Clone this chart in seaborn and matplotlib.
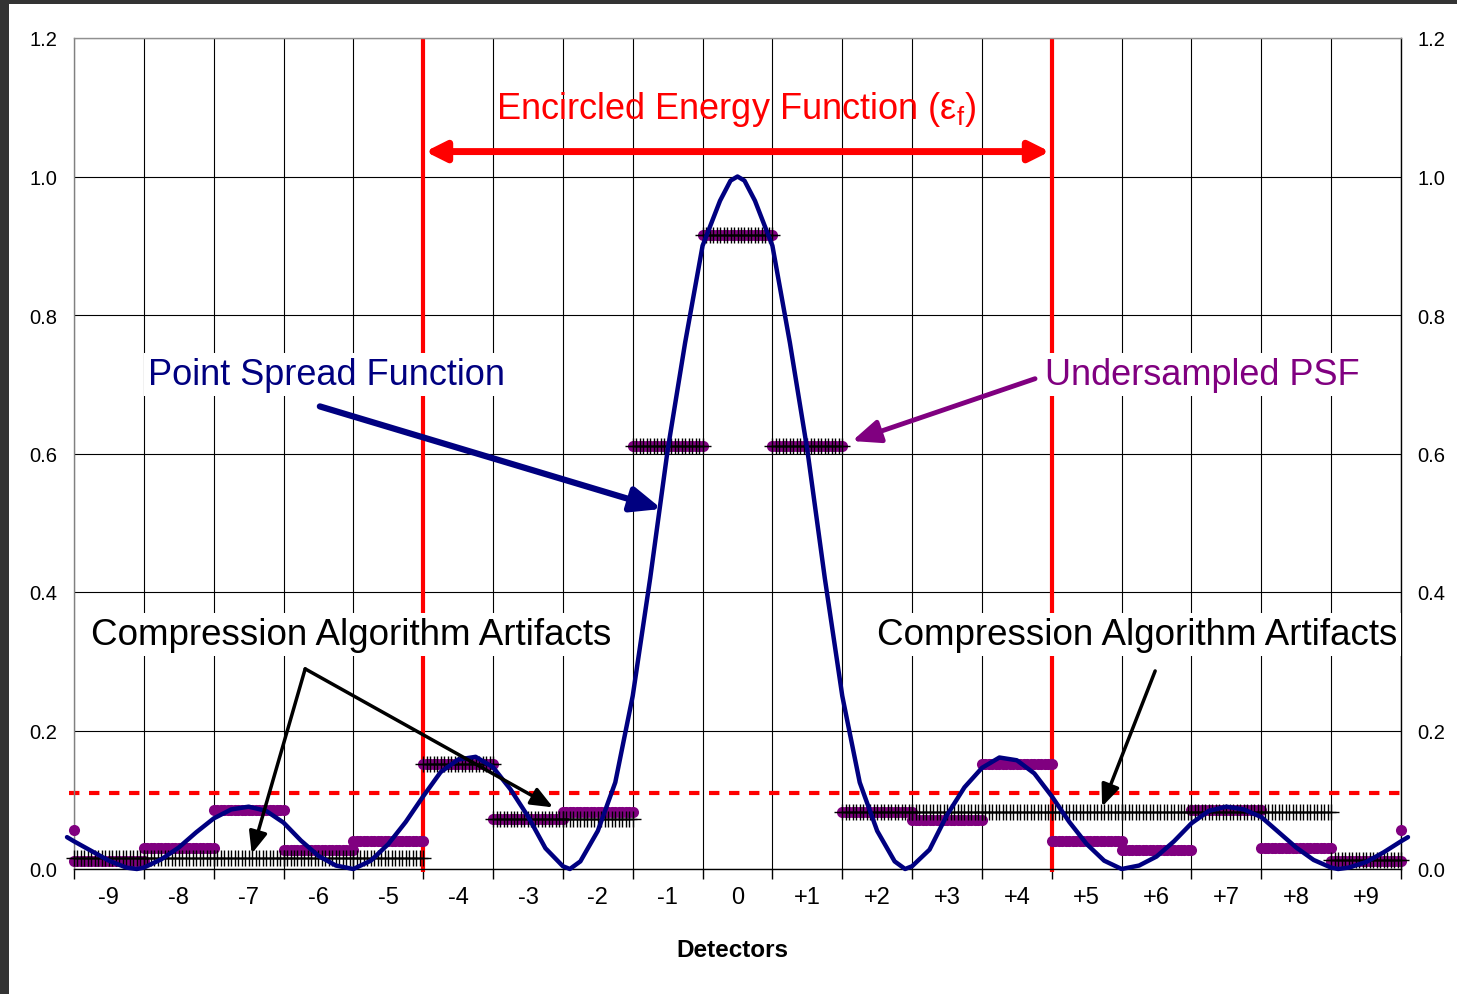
import numpy as np
import pandas as pd
import matplotlib
matplotlib.use("Agg")
import matplotlib.pyplot as plt
import seaborn as sns
from matplotlib.patches import Rectangle

# ---------------- data ----------------
DETECTORS = [-9, -8, -7, -6, -5, -4, -3, -2, -1, 0, 1, 2, 3, 4, 5, 6, 7, 8, 9]
DETECTOR_LABELS = ["-9", "-8", "-7", "-6", "-5", "-4", "-3", "-2", "-1", "0",
                   "+1", "+2", "+3", "+4", "+5", "+6", "+7", "+8", "+9"]
UNDERSAMPLED_PSF = [0.012, 0.031, 0.085, 0.027, 0.041, 0.152, 0.072, 0.083, 0.611, 0.916,
                    0.611, 0.083, 0.071, 0.151, 0.041, 0.027, 0.085, 0.031, 0.012]
COMPRESSED_PSF = [0.016, 0.016, 0.016, 0.016, 0.016, 0.152, 0.072, 0.072, 0.611, 0.916,
                  0.611, 0.083, 0.083, 0.083, 0.083, 0.083, 0.083, 0.083, 0.013]
EDGE_X = [-9.5, 9.5]
EDGE_Y = [0.057, 0.057]

PSF_X = [-9.6, -9.5, -9.25, -9.0, -8.75, -8.6, -8.5, -8.25, -8.0, -7.75, -7.5, -7.25, -7.0,
         -6.75, -6.5, -6.25, -6.0, -5.75, -5.5, -5.25, -5.0, -4.75, -4.5, -4.25, -4.0,
         -3.75, -3.5, -3.25, -3.0, -2.75, -2.5, -2.4, -2.25, -2.0, -1.75, -1.5, -1.25,
         -1.0, -0.75, -0.5, -0.25, -0.1, 0.0, 0.1, 0.25, 0.5, 0.75, 1.0, 1.25, 1.5, 1.75,
         2.0, 2.25, 2.4, 2.5, 2.75, 3.0, 3.25, 3.5, 3.75, 4.0, 4.25, 4.5, 4.75, 5.0, 5.25,
         5.5, 5.75, 6.0, 6.25, 6.5, 6.75, 7.0, 7.25, 7.5, 7.75, 8.0, 8.25, 8.5, 8.6, 8.75,
         9.0, 9.25, 9.5, 9.6]
PSF_Y = [0.046, 0.040, 0.026, 0.012, 0.002, 0.000, 0.002, 0.014, 0.031, 0.053, 0.073, 0.086, 0.090,
         0.084, 0.067, 0.041, 0.019, 0.005, 0.000, 0.012, 0.036, 0.068, 0.105, 0.140, 0.158,
         0.162, 0.147, 0.115, 0.076, 0.030, 0.004, 0.000, 0.011, 0.055, 0.125, 0.250, 0.420,
         0.605, 0.760, 0.900, 0.965, 0.994, 1.000, 0.994, 0.965, 0.900, 0.760, 0.605, 0.420, 0.250, 0.125,
         0.055, 0.011, 0.000, 0.004, 0.028, 0.078, 0.118, 0.146, 0.161, 0.157, 0.138, 0.105, 0.068, 0.036, 0.012,
         0.000, 0.005, 0.018, 0.040, 0.066, 0.084, 0.090, 0.086, 0.075, 0.053, 0.031, 0.013, 0.002, 0.000, 0.002,
         0.010, 0.024, 0.040, 0.046]

THRESHOLD = 0.11
EE_LIMITS = [-4.5, 4.5]
EE_ARROW_Y = 1.036
Y_TICKS = [0.0, 0.2, 0.4, 0.6, 0.8, 1.0, 1.2]
SAMPLE_STEP = 0.05

NAVY = "#000080"
PURPLE = "#800080"
RED = "#FF0000"

# sampled (per-detector constant) series
rows = []
for d, u, c in zip(DETECTORS, UNDERSAMPLED_PSF, COMPRESSED_PSF):
    for k in range(int(round(1 / SAMPLE_STEP)) + 1):
        rows.append({"detector": d, "x": d - 0.5 + k * SAMPLE_STEP,
                     "undersampled": u, "compressed": c})
samples = pd.DataFrame(rows)
psf = pd.DataFrame({"x": PSF_X, "psf": PSF_Y})

# ---------------- style ----------------
sns.set_theme(style="white")
plt.rcParams["font.family"] = ["Liberation Sans", "DejaVu Sans"]
plt.rcParams["mathtext.fontset"] = "custom"
plt.rcParams["mathtext.rm"] = "Liberation Sans"
plt.rcParams["axes.unicode_minus"] = False

fig = plt.figure(figsize=(14.57, 9.95), dpi=100)
fig.patch.set_facecolor("white")
ax = fig.add_axes([74 / 1457, 1 - 870 / 995, (1401 - 74) / 1457, (870 - 39) / 995])
ax.set_facecolor("white")
ax.set_xlim(-9.5, 9.5)
ax.set_ylim(0, 1.2)

# dark screenshot border
fig.patches.append(Rectangle((0, 1 - 5 / 995), 1, 5 / 995, transform=fig.transFigure,
                             facecolor="#333333", edgecolor="none", zorder=10))
fig.patches.append(Rectangle((0, 0), 9 / 1457, 1, transform=fig.transFigure,
                             facecolor="#333333", edgecolor="none", zorder=10))

# grid / ticks
ax.set_xticks(np.arange(-9.5, 9.51, 1.0))
ax.set_xticklabels([])
ax.set_xticks(DETECTORS, minor=True)
ax.set_xticklabels(DETECTOR_LABELS, minor=True, fontsize=17)
ax.tick_params(axis="x", which="major", direction="out", length=7, width=1, color="black",
               bottom=True)
ax.tick_params(axis="x", which="minor", length=0, pad=12, labelcolor="black")
ax.set_yticks(Y_TICKS)
ax.set_yticklabels([f"{v:.1f}" for v in Y_TICKS], fontsize=14.5)
ax.tick_params(axis="y", length=0, pad=12, left=False, right=False,
               labelleft=True, labelright=True, labelcolor="black")
ax.grid(True, axis="x", which="major", color="black", lw=0.8)
ax.grid(True, axis="y", which="major", color="black", lw=0.8)
ax.set_axisbelow(True)
for side, col in [("left", "#808080"), ("top", "#909090"), ("right", "black"), ("bottom", "black")]:
    ax.spines[side].set_visible(True)
    ax.spines[side].set_color(col)
    ax.spines[side].set_linewidth(1.0)

# red reference lines
for xv in EE_LIMITS:
    ax.plot([xv, xv], [-0.004, 1.2], color=RED, lw=3, zorder=2, clip_on=False,
            solid_capstyle="butt")
ax.plot([-9.57, 9.6], [THRESHOLD, THRESHOLD], color=RED, lw=3, dashes=(2.5, 2.3),
        zorder=2, clip_on=False)

# undersampled PSF (purple dots)
sns.scatterplot(data=samples, x="x", y="undersampled", color=PURPLE, s=64, linewidth=0,
                ax=ax, zorder=3, legend=False)
ax.collections[-1].set_clip_on(False)
ax.scatter(EDGE_X, EDGE_Y, s=64, color=PURPLE, linewidths=0, zorder=3, clip_on=False)

# compressed (black +)
sns.lineplot(data=samples, x="x", y="compressed", units="detector", estimator=None,
             color="black", lw=1.0, marker="+", markersize=12, markeredgewidth=1.0,
             markeredgecolor="black", ax=ax, zorder=4, legend=False)
for ln in ax.lines[-len(DETECTORS):]:
    ln.set_clip_on(False)

# PSF curve
sns.lineplot(data=psf, x="x", y="psf", color=NAVY, lw=3.2, ax=ax, zorder=5, sort=False)
ax.lines[-1].set_clip_on(False)

# annotations
ax.annotate("", xy=(4.47, EE_ARROW_Y), xytext=(-4.47, EE_ARROW_Y),
            arrowprops=dict(arrowstyle="<|-|>,head_length=0.6,head_width=0.3", color=RED,
                            lw=5, mutation_scale=20, shrinkA=0, shrinkB=0), zorder=6)
ax.text(-0.02, 1.098, r"Encircled Energy Function (ε$_\mathrm{f}$)", color=RED,
        fontsize=26, ha="center", va="center", zorder=7)

box = dict(facecolor="white", edgecolor="none", pad=3)
ax.text(-5.885, 0.714, "Point Spread Function", color=NAVY, fontsize=26, ha="center",
        va="center", bbox=box, zorder=7)
ax.text(6.66, 0.714, "Undersampled PSF", color=PURPLE, fontsize=26, ha="center",
        va="center", bbox=box, zorder=7)
ax.text(-5.527, 0.338, "Compression Algorithm Artifacts", color="black", fontsize=26.5,
        ha="center", va="center", bbox=box, zorder=7)
ax.text(5.72, 0.338, "Compression Algorithm Artifacts", color="black", fontsize=26.5,
        ha="center", va="center", bbox=box, zorder=7)

ax.annotate("", xy=(-1.085, 0.52), xytext=(-5.98, 0.668),
            arrowprops=dict(arrowstyle="-|>,head_length=0.6,head_width=0.25", color=NAVY,
                            lw=4.5, mutation_scale=30, shrinkA=0, shrinkB=0), zorder=8)
ax.annotate("", xy=(1.64, 0.618), xytext=(4.26, 0.708),
            arrowprops=dict(arrowstyle="-|>,head_length=0.6,head_width=0.25", color=PURPLE,
                            lw=3.5, mutation_scale=28, shrinkA=0, shrinkB=0), zorder=8)
for tip, tail in [((-6.955, 0.022), (-6.19, 0.289)),
                  ((-2.64, 0.089), (-6.19, 0.289)),
                  ((5.22, 0.09), (5.98, 0.286))]:
    ax.annotate("", xy=tip, xytext=tail,
                arrowprops=dict(arrowstyle="-|>,head_length=0.6,head_width=0.25",
                                color="black", lw=2.5, mutation_scale=22,
                                shrinkA=0, shrinkB=0), zorder=8)

ax.set_xlabel("Detectors", fontsize=17.5, fontweight="bold", color="black", va="center")
ax.xaxis.set_label_coords(0.496, -(951 - 870) / 831)
ax.set_ylabel("")

fig.savefig("out.png", dpi=100, facecolor="white")
